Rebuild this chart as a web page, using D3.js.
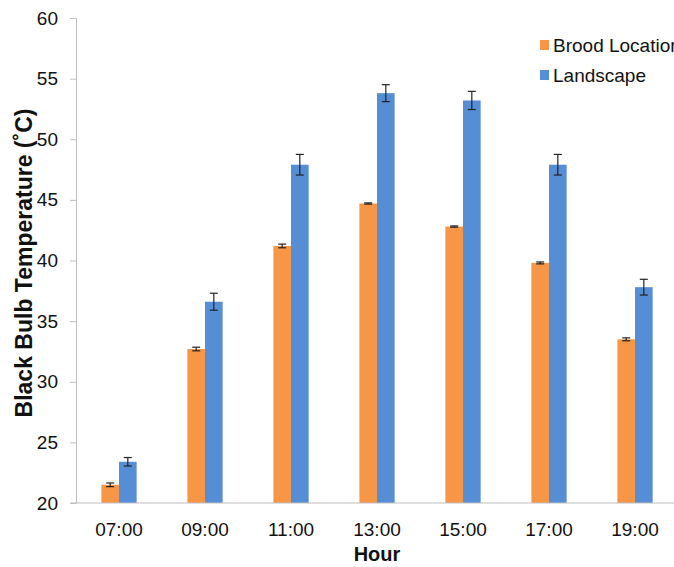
<!DOCTYPE html>
<html>
<head>
<meta charset="utf-8">
<script src="https://cdn.jsdelivr.net/npm/d3@7"></script>
<style>
  body { margin: 0; background: #fff; }
  svg { font-family: "Liberation Sans", Arial, sans-serif; display: block; }
</style>
</head>
<body>
<div id="chart"></div>
<script>
// Data
const hours = ['07:00', '09:00', '11:00', '13:00', '15:00', '17:00', '19:00'];
const broodValues = [21.5, 32.7, 41.2, 44.7, 42.8, 39.8, 33.5];
const broodErrors = [0.15, 0.15, 0.15, 0.05, 0.05, 0.08, 0.12];
const landscapeValues = [23.4, 36.6, 47.9, 53.8, 53.2, 47.9, 37.8];
const landscapeErrors = [0.35, 0.7, 0.85, 0.7, 0.75, 0.85, 0.65];
const yTicks = [20, 25, 30, 35, 40, 45, 50, 55, 60];
const seriesNames = ['Brood Location', 'Landscape'];

const colors = ['#F79646', '#558ED5'];

const svgWidth = 674, svgHeight = 567;
const margin = { top: 18, right: -4, bottom: 64, left: 76 };
const width = svgWidth - margin.left - margin.right;
const height = svgHeight - margin.top - margin.bottom;

const svg = d3.select('#chart').append('svg')
    .attr('width', svgWidth)
    .attr('height', svgHeight);

const g = svg.append('g')
    .attr('transform', `translate(${margin.left},${margin.top})`);

const xScale = d3.scaleBand()
    .domain(hours)
    .range([0, width])
    .paddingInner(0.59)
    .paddingOuter(0.295);

const xInner = d3.scaleBand()
    .domain(seriesNames)
    .range([0, xScale.bandwidth()]);

const yScale = d3.scaleLinear()
    .domain([20, 60])
    .range([height, 0]);

const series = seriesNames.map((name, i) => ({
    name,
    color: colors[i],
    rows: hours.map((h, j) => ({
        hour: h,
        value: i === 0 ? broodValues[j] : landscapeValues[j],
        err: i === 0 ? broodErrors[j] : landscapeErrors[j]
    }))
}));

// Y axis
const yAxis = g.append('g')
    .call(d3.axisLeft(yScale).tickValues(yTicks).tickSize(6).tickPadding(12).tickFormat(d3.format('d')));
yAxis.select('.domain').attr('stroke', '#bfbfbf');
yAxis.selectAll('.tick line').attr('stroke', '#bfbfbf');
yAxis.selectAll('.tick text')
    .style('font-size', '19px')
    .attr('fill', '#111');

// Bars
series.forEach(s => {
    g.selectAll(null)
        .data(s.rows)
        .enter()
        .append('rect')
        .attr('x', d => xScale(d.hour) + xInner(s.name))
        .attr('y', d => yScale(d.value))
        .attr('width', xInner.bandwidth())
        .attr('height', d => height - yScale(d.value))
        .attr('fill', s.color);
});

// Error bars
series.forEach(s => {
    const eb = g.selectAll(null)
        .data(s.rows)
        .enter()
        .append('g')
        .attr('stroke', '#222')
        .attr('stroke-width', 1.2);
    const cx = d => xScale(d.hour) + xInner(s.name) + xInner.bandwidth() / 2;
    eb.append('line')
        .attr('x1', cx).attr('x2', cx)
        .attr('y1', d => yScale(d.value + d.err))
        .attr('y2', d => yScale(d.value - d.err));
    eb.append('line')
        .attr('x1', d => cx(d) - 4).attr('x2', d => cx(d) + 4)
        .attr('y1', d => yScale(d.value + d.err))
        .attr('y2', d => yScale(d.value + d.err));
    eb.append('line')
        .attr('x1', d => cx(d) - 4).attr('x2', d => cx(d) + 4)
        .attr('y1', d => yScale(d.value - d.err))
        .attr('y2', d => yScale(d.value - d.err));
});

// X axis
const xAxis = g.append('g')
    .attr('transform', `translate(0,${height})`)
    .call(d3.axisBottom(xScale).tickSize(0).tickPadding(20));
xAxis.select('.domain').attr('stroke', '#bfbfbf').attr('d', `M-6,0H${width}`);
xAxis.selectAll('.tick text')
    .style('font-size', '19px')
    .attr('fill', '#111');

// Axis titles
svg.append('text')
    .attr('x', margin.left + (xScale('13:00') + xScale.bandwidth() / 2))
    .attr('y', 561)
    .attr('text-anchor', 'middle')
    .style('font-size', '20px')
    .style('font-weight', '700')
    .attr('fill', '#111')
    .text('Hour');

svg.append('text')
    .attr('transform', `translate(32,263) rotate(-90)`)
    .attr('text-anchor', 'middle')
    .style('font-size', '23px')
    .style('font-weight', '700')
    .attr('fill', '#111')
    .text('Black Bulb Temperature (˚C)');

// Legend
const legend = svg.append('g')
    .attr('transform', 'translate(540,37)');
seriesNames.forEach((name, i) => {
    const row = legend.append('g').attr('transform', `translate(0,${i * 30})`);
    row.append('rect')
        .attr('width', 9).attr('height', 10)
        .attr('y', 3)
        .attr('fill', colors[i]);
    row.append('text')
        .attr('x', 13)
        .attr('y', 15)
        .style('font-size', '19px')
        .attr('fill', '#111')
        .text(name);
});
</script>
</body>
</html>
